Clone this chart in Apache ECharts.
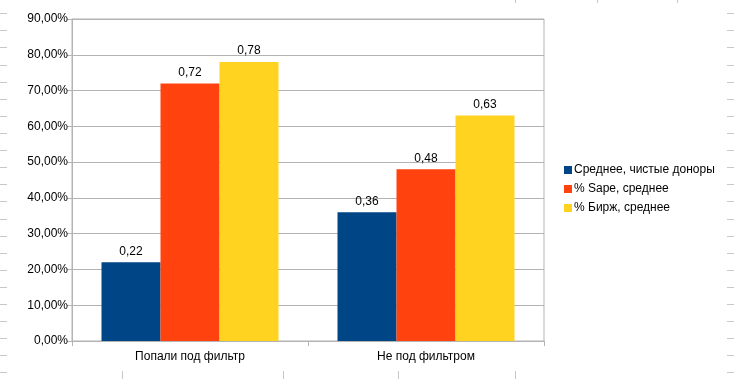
<!DOCTYPE html>
<html>
<head>
<meta charset="utf-8">
<script src="https://cdn.jsdelivr.net/npm/echarts@6/dist/echarts.min.js"></script>
<style>
html,body{margin:0;padding:0;background:#fff;}
#c{width:734px;height:379px;}
</style>
</head>
<body>
<div id="c"></div>
<script>
const categories = ['Попали под фильтр', 'Не под фильтром'];
const seriesNames = ['Среднее, чистые доноры', '% Sape, среднее', '% Бирж, среднее'];
const cleanDonors = [0.22, 0.36];
const sapeAvg = [0.72, 0.48];
const birzhAvg = [0.78, 0.63];
const colors = ['#004586', '#ff420e', '#ffd320'];

const FONT = '"Liberation Sans", Arial, sans-serif';

function fmtPct(v) { return (v * 100).toFixed(2).replace('.', ',') + '%'; }
function fmtVal(v) { return v.toFixed(2).replace('.', ','); }

// decorative spreadsheet cell borders visible behind the chart
const deco = [];
const rowYs = [13, 30, 47, 65, 82, 99, 116, 133, 150, 167, 184, 201, 219, 236, 253, 270, 287, 304, 321, 338, 355, 372];
rowYs.forEach(y => {
  deco.push({type:'line', shape:{x1:0,y1:y+0.5,x2:7,y2:y+0.5}, style:{stroke:'#c8c8c8',lineWidth:1}, silent:true, z:-1});
  deco.push({type:'line', shape:{x1:727,y1:y+0.5,x2:734,y2:y+0.5}, style:{stroke:'#c8c8c8',lineWidth:1}, silent:true, z:-1});
});
[515, 597, 677].forEach(x => deco.push({type:'line', shape:{x1:x+0.5,y1:0,x2:x+0.5,y2:3}, style:{stroke:'#c8c8c8',lineWidth:1}, silent:true, z:-1}));
[122, 283, 398, 515].forEach(x => deco.push({type:'line', shape:{x1:x+0.5,y1:371,x2:x+0.5,y2:379}, style:{stroke:'#c8c8c8',lineWidth:1}, silent:true, z:-1}));

const chart = echarts.init(document.getElementById('c'), null, {renderer:'canvas'});
const dataArrays = [cleanDonors, sapeAvg, birzhAvg];
chart.setOption({
  animation: false,
  backgroundColor: '#fff',
  textStyle: {fontFamily: FONT},
  grid: {left: 72, right: 190, top: 19, bottom: 38, containLabel: false,
         show: true, borderColor: '#b3b3b3', borderWidth: 1},
  legend: {
    orient: 'vertical', left: 564, top: 163, padding: 0,
    itemWidth: 8, itemHeight: 8, itemGap: 5, icon: 'rect',
    textStyle: {fontFamily: FONT, fontSize: 12, color: '#000', lineHeight: 14, padding:[0,0,0,-3]},
    data: seriesNames
  },
  xAxis: {
    type: 'category', data: categories,
    axisLine: {show: true, lineStyle: {color: '#b3b3b3'}},
    axisTick: {show: true, length: 5, alignWithLabel: false, lineStyle: {color: '#b3b3b3'}},
    axisLabel: {color: '#000', fontSize: 12, fontFamily: FONT, margin: 10}
  },
  yAxis: {
    type: 'value', min: 0, max: 0.9, interval: 0.1,
    axisLine: {show: true, lineStyle: {color: '#b3b3b3'}},
    axisTick: {show: true, length: 5, lineStyle: {color: '#b3b3b3'}},
    splitLine: {show: true, lineStyle: {color: '#b3b3b3'}},
    axisLabel: {color: '#000', fontSize: 12, fontFamily: FONT, margin: 4, formatter: fmtPct}
  },
  series: seriesNames.map((n, i) => ({
    name: n, type: 'bar', data: dataArrays[i],
    barGap: '0%', barCategoryGap: '25%',
    itemStyle: {color: colors[i]},
    label: {show: true, position: 'top', distance: 5, color: '#000', fontSize: 12, fontFamily: FONT,
            formatter: p => fmtVal(p.value)}
  })),
  graphic: deco
});
</script>
</body>
</html>
